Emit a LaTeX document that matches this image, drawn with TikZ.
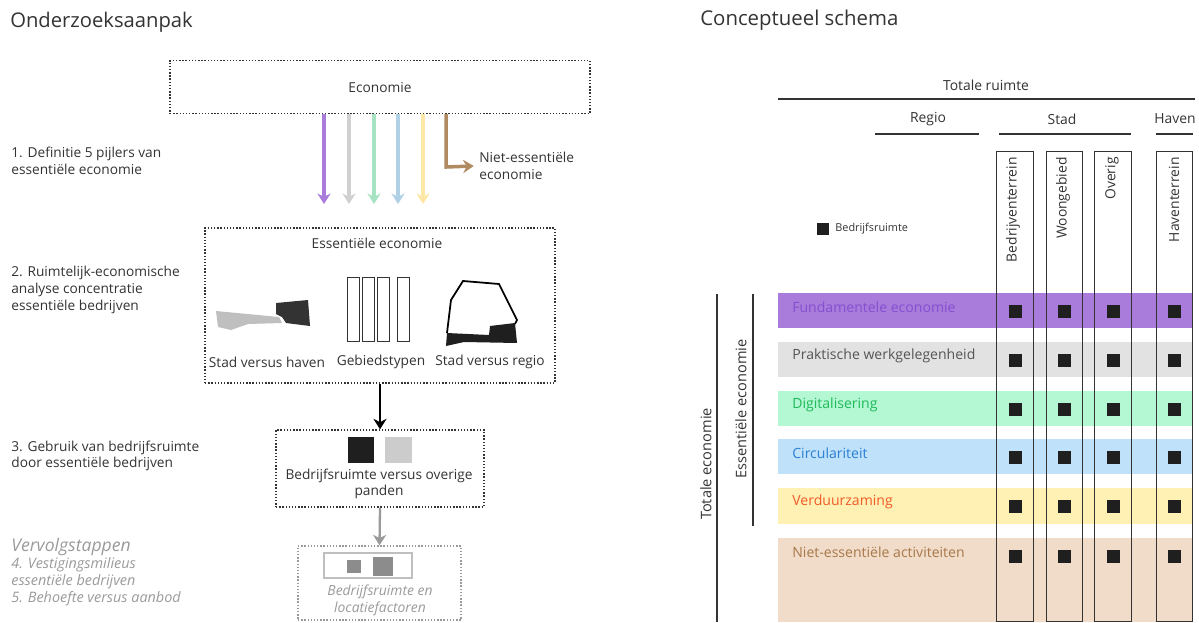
\documentclass[tikz,border=0pt]{standalone}
\usepackage{fontspec}
\setmainfont{Open Sans}
\usetikzlibrary{positioning,arrows.meta}
\definecolor{tekst}{HTML}{333333}
\definecolor{vaag}{HTML}{9A9A9A}
\definecolor{paars}{HTML}{A97BDB}
\definecolor{paarst}{HTML}{8450D0}
\definecolor{grijs}{HTML}{E2E2E2}
\definecolor{grijst}{HTML}{555555}
\definecolor{groen}{HTML}{B3F7D3}
\definecolor{groent}{HTML}{1FBA5A}
\definecolor{blauw}{HTML}{BFE2FA}
\definecolor{blauwt}{HTML}{2B7FD4}
\definecolor{geel}{HTML}{FFF0B3}
\definecolor{geelt}{HTML}{F15A29}
\definecolor{bruin}{HTML}{F0DCC8}
\definecolor{bruint}{HTML}{A8784A}
\definecolor{pijlbruin}{HTML}{B08A60}

\begin{document}
\begin{tikzpicture}[x=0.02cm, y=-0.02cm, >={Stealth[length=6pt,width=7.5pt]},
  font=\fontsize{7.8}{9.4}\selectfont, text=tekst,
  stip/.style={draw=tekst, line width=0.8pt, dash pattern=on 0.8pt off 1pt, inner sep=0pt},
  lbl/.style={anchor=west, align=left, inner sep=0pt},
  pijler/.style={->, line width=2pt},
  rij/.style={minimum width=8.3cm, inner sep=0pt},
  rijtekst/.style={anchor=west, inner sep=0pt, font=\fontsize{8}{9}\selectfont},
  kolom/.style={draw=tekst, line width=0.6pt, minimum width=0.73cm, minimum height=9.4cm, inner sep=0pt},
  kolomtekst/.style={rotate=90, anchor=east, inner sep=0pt, font=\fontsize{7.9}{9}\selectfont},
  blok/.style={fill=black!88, minimum size=0.26cm, inner sep=0pt},
  kop/.style={font=\fontsize{7.9}{9}\selectfont, inner sep=0pt}]
\useasboundingbox (0,0) rectangle (1199,622);

% links: onderzoeksaanpak
\node[anchor=west, inner sep=0pt, font=\fontsize{11.5}{14}\selectfont] (titel1) at (10,22) {Onderzoeksaanpak};

\node[stip, minimum width=8.4cm, minimum height=1.06cm] (econ) at (380,87) {};
\node (econtxt) at (380,88) {Economie};
\node[lbl] (stap1) at (11,161) {1. Definitie 5 pijlers van\\essentiële economie};

\coordinate (p1) at (324,204);
\coordinate (p2) at (349,204);
\coordinate (p3) at (374,204);
\coordinate (p4) at (398,204);
\coordinate (p5) at (423,204);
\coordinate (nb) at (446,167);
\draw[pijler, paars] (econ.south -| p1) -- (p1);
\draw[pijler, grijs!92!black] (econ.south -| p2) -- (p2);
\draw[pijler, groen!92!black] (econ.south -| p3) -- (p3);
\draw[pijler, blauw!92!black] (econ.south -| p4) -- (p4);
\draw[pijler, geel!92!orange] (econ.south -| p5) -- (p5);
\node[lbl] (niet) at (479,166) {Niet-essentiële\\economie};
\draw[pijler, pijlbruin] (econ.south -| nb) -- (nb) -- ([xshift=-3pt]niet.west);

\node[stip, minimum width=7cm, minimum height=3.1cm] (ess) at (380,305.5) {};
\node (esstxt) at (377,243) {Essentiële economie};
\node[lbl, font=\fontsize{7.8}{9.9}\selectfont] (stap2) at (11,290) {2. Ruimtelijk-economische\\analyse concentratie\\essentiële bedrijven};

\fill[black!25] (216,311) -- (279,317) -- (282,323) -- (248,324) -- (231,330) -- (218,327) -- cycle;
\fill[black!80] (276,303) -- (308,300) -- (310,326) -- (286,323) -- (282,317) -- (276,314) -- cycle;
\foreach \x in {347,362,377,397}
  \draw[tekst, line width=0.5pt] (\x,277) rectangle ++(12,64);
\draw[black, line width=1pt] (447,333) -- (451,300) -- (463,281) -- (499,284) -- (517,320) -- (515,324);
\fill[black!88] (446,346) -- (447,333) -- (489,335) -- (490,326) -- (515,323) -- (517,343) -- (464,342) -- cycle;
\node (havtxt) at (267,362) {Stad versus haven};
\node (gebtxt) at (381,362) {Gebiedstypen};
\node (regtxt) at (490,362) {Stad versus regio};

\node[stip, minimum width=4.16cm, minimum height=1.54cm] (gebruik) at (380,468.5) {};
\draw[->, line width=1.3pt, black] (ess.south) -- (gebruik.north);
\fill[black!88] (348,437) rectangle (374,463);
\fill[black!20] (385,437) rectangle (412,463);
\node[align=center, inner sep=0pt] (gebrtxt) at (379,484) {Bedrijfsruimte versus overige\\panden};
\node[lbl] (stap3) at (11,456) {3. Gebruik van bedrijfsruimte\\door essentiële bedrijven};

\node[stip, draw=vaag, minimum width=3.26cm, minimum height=1.48cm] (vervolg) at (379.5,583) {};
\draw[->, line width=1.3pt, vaag] (gebruik.south) -- (vervolg.north);
\draw[black!25, line width=0.7pt] (324,553) rectangle (412,578);
\fill[black!45] (347,560) rectangle (361,573);
\fill[black!45] (373,557) rectangle (393,576);
\node[align=center, inner sep=0pt, text=vaag, font=\fontsize{7.9}{9.6}\selectfont\itshape] (vervtxt) at (380,600) {Bedrijfsruimte en\\locatiefactoren};
\node[lbl, text=vaag, font=\fontsize{10}{12}\selectfont\itshape] (verv) at (11,547) {Vervolgstappen};
\node[lbl, text=vaag, font=\fontsize{8.2}{9.6}\selectfont\itshape] (stap45) at (11,582) {4. Vestigingsmilieus\\essentiële bedrijven\\5. Behoefte versus aanbod};

% rechts: conceptueel schema
\node[anchor=west, inner sep=0pt, font=\fontsize{11.6}{13}\selectfont] (titel2) at (700,20) {Conceptueel schema};

\node[kop] (totr) at (986,85) {Totale ruimte};
\draw[tekst, line width=0.6pt] (778,99) -- (1195,99);
\node[kop] (regio) at (928,119) {Regio};
\node[kop] (stad) at (1062,119) {Stad};
\node[kop] (haven) at (1175,119) {Haven};
\draw[tekst, line width=0.6pt] (875,134) -- (979,134);
\draw[tekst, line width=0.6pt] (999,134) -- (1131,134);
\draw[tekst, line width=0.6pt] (1156,134) -- (1193,134);

\fill[black!88] (817,223) rectangle (829,235);
\node[anchor=west, inner sep=0pt, font=\fontsize{6.2}{7}\selectfont] (legtxt) at (835,229) {Bedrijfsruimte};

\foreach \top/\h/\fc/\tc/\txt [count=\i] in {
    293/35/paars/paarst/Fundamentele economie,
    342/35/grijs/grijst/Praktische werkgelegenheid,
    391/35/groen/groent/Digitalisering,
    439/35/blauw/blauwt/Circulariteit,
    488/36/geel/geelt/Verduurzaming,
    538/84/bruin/bruint/Niet-essentiële activiteiten} {
  \node[rij, fill=\fc, minimum height={\h*0.02cm}] (rij\i) at (985.5,{\top+\h/2}) {};
  \node[rijtekst, text=\tc] (rijtxt\i) at (792,{\top+14}) {\txt};
  \foreach \x [count=\j] in {1015,1064,1113,1174}
    \node[blok] (blok\i\j) at (\x,{\top+18}) {};
}

\node[kolom, anchor=north] (kol1) at (1015,151) {};
\node[kolom, anchor=north] (kol2) at (1064.5,151) {};
\node[kolom, anchor=north] (kol3) at (1113,151) {};
\node[kolom, anchor=north] (kol4) at (1174.5,151) {};
\node[kolomtekst] (k1txt) at (1013,157) {Bedrijventerrein};
\node[kolomtekst] (k2txt) at (1063,157) {Woongebied};
\node[kolomtekst] (k3txt) at (1112,157) {Overig};
\node[kolomtekst] (k4txt) at (1174,157) {Haventerrein};

\draw[tekst, line width=0.6pt] (717,294) -- (717,622);
\draw[tekst, line width=0.6pt] (753,294) -- (753,526);
\node[kop, rotate=90, font=\fontsize{8.3}{9}\selectfont] (totec) at (706,464) {Totale economie};
\node[kop, rotate=90, font=\fontsize{8.3}{9}\selectfont] (essec) at (741,409) {Essentiële economie};
\end{tikzpicture}
\end{document}
